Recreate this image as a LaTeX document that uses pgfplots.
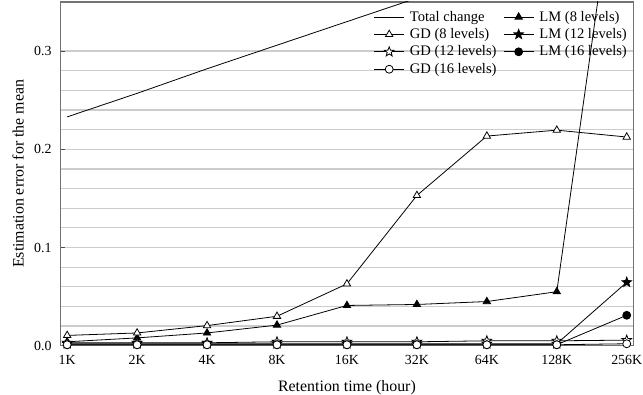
\documentclass[border=0pt]{standalone}
\usepackage{pgfplots}
\pgfplotsset{compat=1.18}
\usepackage{fontspec}
\setmainfont{Liberation Serif}
\pgfdeclareplotmark{fstar}{%
  \pgfpathmoveto{\pgfpointpolar{90}{\pgfplotmarksize}}%
  \pgfpathlineto{\pgfpointpolar{126}{0.42\pgfplotmarksize}}%
  \pgfpathlineto{\pgfpointpolar{162}{\pgfplotmarksize}}%
  \pgfpathlineto{\pgfpointpolar{198}{0.42\pgfplotmarksize}}%
  \pgfpathlineto{\pgfpointpolar{234}{\pgfplotmarksize}}%
  \pgfpathlineto{\pgfpointpolar{270}{0.42\pgfplotmarksize}}%
  \pgfpathlineto{\pgfpointpolar{306}{\pgfplotmarksize}}%
  \pgfpathlineto{\pgfpointpolar{342}{0.42\pgfplotmarksize}}%
  \pgfpathlineto{\pgfpointpolar{18}{\pgfplotmarksize}}%
  \pgfpathlineto{\pgfpointpolar{54}{0.42\pgfplotmarksize}}%
  \pgfpathclose
  \pgfusepathqfillstroke
}
\begin{document}
\begin{tikzpicture}[x=1pt,y=1pt]
\begin{axis}[
  scale only axis,
  width=433pt, height=259.5pt,
  xmin=-0.1, xmax=8.1, ymin=0, ymax=0.35,
  xtick={0,1,2,3,4,5,6,7,8},
  xticklabels={1K,2K,4K,8K,16K,32K,64K,128K,{\makebox[0pt]{256K}}},
  ytick={0,0.1,0.2,0.3},
  yticklabels={0.0,0.1,0.2,0.3},
  minor y tick num=4,
  ymajorgrids, yminorgrids,
  major grid style={draw=black!20, line width=0.9pt},
  minor grid style={draw=black!20, line width=0.9pt},
  tick align=inside,
  xtick style={draw=none},
  ytick pos=left,
  minor tick length=0pt,
  major tick length=4pt,
  axis line style={draw=black!55, line width=0.8pt},
  every tick/.style={black!70, line width=0.6pt},
  /pgf/number format/assume math mode=true,
  tick label style={font=\fontsize{10.5}{12}\selectfont},
  label style={font=\fontsize{12}{14}\selectfont},
  xticklabel style={yshift=-4pt},
  yticklabel style={xshift=-3pt},
  xlabel={Retention time (hour)},
  ylabel={Estimation error for the mean},
  xlabel style={inner sep=0pt, yshift=-8pt},
  ylabel style={yshift=1pt},
  legend columns=2,
  legend style={draw=none, fill=none, at={(1.0,0.99)}, anchor=north east,
    font=\fontsize{11}{13}\selectfont, row sep=0pt,
    /tikz/every odd column/.append style={column sep=2pt},
    /tikz/every even column/.append style={column sep=3pt}},
  legend cell align=left,
  legend image code/.code={\draw[mark repeat=2,mark phase=2] plot coordinates {(0cm,0cm)(0.4cm,0cm)(0.8cm,0cm)};},
  every axis plot/.append style={black, line width=0.6pt},
]
% Total change
\addplot[no marks] coordinates {(0,0.233)(1,0.257)(2,0.282)(3,0.306)(4,0.330)(5,0.354)(6,0.378)(7,0.402)(8,0.426)};
\addlegendentry{Total change}
% LM 8
\addplot[mark=triangle*, mark size=3.2pt, mark options={fill=black}] coordinates {(0,0.004)(1,0.008)(2,0.013)(3,0.021)(4,0.041)(5,0.042)(6,0.045)(7,0.055)(8,0.56)};
\addlegendentry{LM (8 levels)}
% GD 8
\addplot[mark=triangle*, mark size=3.2pt, mark options={fill=white}] coordinates {(0,0.0105)(1,0.013)(2,0.0205)(3,0.030)(4,0.063)(5,0.153)(6,0.2135)(7,0.2195)(8,0.2125)};
\addlegendentry{GD (8 levels)}
% LM 12
\addplot[mark=fstar, mark size=3.8pt, mark options={fill=black}] coordinates {(0,0.002)(1,0.002)(2,0.002)(3,0.002)(4,0.002)(5,0.002)(6,0.002)(7,0.002)(8,0.0646)};
\addlegendentry{LM (12 levels)}
% GD 12
\addplot[mark=fstar, mark size=3.8pt, mark options={fill=white}] coordinates {(0,0.003)(1,0.003)(2,0.003)(3,0.004)(4,0.004)(5,0.004)(6,0.005)(7,0.005)(8,0.0057)};
\addlegendentry{GD (12 levels)}
% LM 16
\addplot[mark=*, mark size=3pt, mark options={fill=black}] coordinates {(0,0.001)(1,0.001)(2,0.001)(3,0.001)(4,0.001)(5,0.001)(6,0.001)(7,0.001)(8,0.031)};
\addlegendentry{LM (16 levels)}
% GD 16
\addplot[mark=*, mark size=3pt, mark options={fill=white}] coordinates {(0,0.001)(1,0.001)(2,0.001)(3,0.001)(4,0.001)(5,0.001)(6,0.001)(7,0.001)(8,0.002)};
\addlegendentry{GD (16 levels)}
\end{axis}
\path (current bounding box.south west) ++(-6pt,0pt);
\path (current axis.north east) ++(7pt,1.5pt);
\end{tikzpicture}
\end{document}
